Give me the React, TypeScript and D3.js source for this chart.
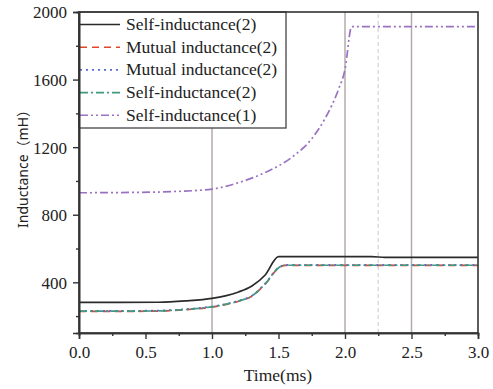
import React, { useEffect, useRef } from 'react';
import * as d3 from 'd3';

// time (ms) samples for the lower curves
const timeLow = [0, 0.3, 0.6, 0.8, 1.0, 1.1, 1.2, 1.3, 1.4, 1.5, 1.55, 2.0, 2.2, 2.3, 2.5, 3.0];
const selfInd2Solid = [281, 281, 282, 290, 305, 320, 343, 378, 443, 552, 552, 552, 552, 548, 548, 548];
const mutualInd2Dash = [228, 228, 230, 238, 254, 268, 288, 318, 390, 484, 500, 500, 500, 500, 500, 500];
const mutualInd2Dot = [231, 231, 233, 241, 257, 271, 291, 321, 393, 487, 503, 503, 503, 503, 503, 503];
const selfInd2DashDot = [229, 229, 231, 239, 255, 269, 289, 319, 391, 485, 501, 501, 501, 501, 501, 501];

// time samples for the upper curve
const timeHigh = [0, 0.4, 0.7, 1.0, 1.2, 1.4, 1.6, 1.75, 1.85, 1.95, 2.0, 2.05, 2.5, 3.0];
const selfInd1 = [930, 932, 937, 952, 990, 1050, 1140, 1250, 1370, 1540, 1660, 1913, 1913, 1913];

const legendLabels = [
	'Self-inductance(2)',
	'Mutual inductance(2)',
	'Mutual inductance(2)',
	'Self-inductance(2)',
	'Self-inductance(1)',
];
const xTicks = [0, 0.5, 1.0, 1.5, 2.0, 2.5, 3.0];
const yTicks = [400, 800, 1200, 1600, 2000];
const markerTimes = [1.0, 2.0, 2.5];
const lightMarkerTimes = [2.25];

interface Series {
	name: string;
	t: number[];
	v: number[];
	color: string;
	dash: string | null;
}

const App: React.FC = () => {
	const svgRef = useRef<SVGSVGElement>(null);
	const width = 493;
	const height = 389;

	useEffect(() => {
		const svg = d3.select(svgRef.current);
		svg.selectAll('*').remove();

		const x = d3.scaleLinear().domain([0, 3]).range([79, 478]);
		const y = d3.scaleLinear().domain([100, 2000]).range([333, 12]);
		const serif = '"Liberation Serif", "Times New Roman", serif';

		svg.append('rect').attr('width', width).attr('height', height).attr('fill', '#fff');

		// vertical marker lines
		svg
			.selectAll('line.marker')
			.data(markerTimes)
			.enter()
			.append('line')
			.attr('x1', (d) => x(d))
			.attr('x2', (d) => x(d))
			.attr('y1', y(100))
			.attr('y2', y(2000))
			.attr('stroke', '#b3abab')
			.attr('stroke-width', 1.5);
		svg
			.selectAll('line.light')
			.data(lightMarkerTimes)
			.enter()
			.append('line')
			.attr('x1', (d) => x(d))
			.attr('x2', (d) => x(d))
			.attr('y1', y(100))
			.attr('y2', y(2000))
			.attr('stroke', '#dcdcdc')
			.attr('stroke-width', 1.5)
			.attr('stroke-dasharray', '4,3');

		const series: Series[] = [
			{ name: legendLabels[0], t: timeLow, v: selfInd2Solid, color: '#2a2a2a', dash: null },
			{ name: legendLabels[1], t: timeLow, v: mutualInd2Dash, color: '#e4462c', dash: '7,5' },
			{ name: legendLabels[2], t: timeLow, v: mutualInd2Dot, color: '#5a66d6', dash: '2,4' },
			{ name: legendLabels[3], t: timeLow, v: selfInd2DashDot, color: '#3f9a80', dash: '8,3,2,3' },
			{ name: legendLabels[4], t: timeHigh, v: selfInd1, color: '#9a72c4', dash: '8,3,2,3,2,3' },
		];

		const line = d3
			.line<[number, number]>()
			.x((d) => x(d[0]))
			.y((d) => y(d[1]))
			.curve(d3.curveMonotoneX);

		series.forEach((s) => {
			const pts = s.t.map((t, i) => [t, s.v[i]] as [number, number]);
			svg
				.append('path')
				.attr('d', line(pts) as string)
				.attr('fill', 'none')
				.attr('stroke', s.color)
				.attr('stroke-width', 1.7)
				.attr('stroke-dasharray', s.dash ?? null);
		});

		// legend
		const lg = svg.append('g');
		lg.append('rect')
			.attr('x', 79)
			.attr('y', 12)
			.attr('width', 207)
			.attr('height', 116)
			.attr('fill', '#fff')
			.attr('stroke', '#444')
			.attr('stroke-width', 1.3);
		series.forEach((s, i) => {
			const cy = 24.5 + i * 22.7;
			lg.append('line')
				.attr('x1', 80)
				.attr('x2', 120)
				.attr('y1', cy)
				.attr('y2', cy)
				.attr('stroke', s.color)
				.attr('stroke-width', 1.6)
				.attr('stroke-dasharray', s.dash ?? null);
			lg.append('text')
				.attr('x', 126)
				.attr('y', cy + 5.5)
				.style('font-family', serif)
				.style('font-size', '17.5px')
				.attr('fill', '#222')
				.text(s.name);
		});

		// axes frame
		svg
			.append('rect')
			.attr('x', 79)
			.attr('y', 12)
			.attr('width', 399)
			.attr('height', 321)
			.attr('fill', 'none')
			.attr('stroke', '#333')
			.attr('stroke-width', 1.6);

		const xAxis = d3
			.axisBottom(x)
			.tickValues(xTicks)
			.tickSize(6)
			.tickFormat((d) => d3.format('.1f')(d as number));
		const gx = svg.append('g').attr('transform', 'translate(0,333)').call(xAxis);
		const xMinor = d3.axisBottom(x).tickValues(xTicks.slice(0, -1).map((d) => d + 0.25)).tickSize(3).tickFormat(() => '');
		svg.append('g').attr('transform', 'translate(0,333)').call(xMinor);

		const yAxis = d3.axisLeft(y).tickValues(yTicks).tickSize(6).tickFormat((d) => String(d));
		const gy = svg.append('g').attr('transform', 'translate(79,0)').call(yAxis);
		const yMinor = d3.axisLeft(y).tickValues(yTicks.map((d) => d - 200)).tickSize(3).tickFormat(() => '');
		svg.append('g').attr('transform', 'translate(79,0)').call(yMinor);

		svg.selectAll('.domain').attr('stroke', '#333').attr('stroke-width', 1.6);
		svg.selectAll('.tick line').attr('stroke', '#333').attr('stroke-width', 1.4);
		gx.selectAll('text')
			.style('font-family', serif)
			.style('font-size', '17px')
			.attr('fill', '#222')
			.attr('dy', '0')
			.attr('y', 25);
		gy.selectAll('text')
			.style('font-family', serif)
			.style('font-size', '17px')
			.attr('fill', '#222')
			.attr('x', -12)
			.attr('dy', '0.35em');

		svg
			.append('text')
			.attr('x', 278)
			.attr('y', 381)
			.attr('text-anchor', 'middle')
			.style('font-family', serif)
			.style('font-size', '17.5px')
			.attr('fill', '#222')
			.text('Time(ms)');

		svg
			.append('text')
			.attr('transform', 'translate(28,228) rotate(-90)')
			.attr('text-anchor', 'start')
			.style('font-family', '"Noto Sans", "Noto Sans CJK SC", sans-serif')
			.style('font-size', '14px')
			.attr('fill', '#222')
			.text('Inductance（mH）');
	}, []);

	return <svg ref={svgRef} width={width} height={height} style={{ position: 'absolute', left: 0, top: 0 }} />;
};

export default App;
